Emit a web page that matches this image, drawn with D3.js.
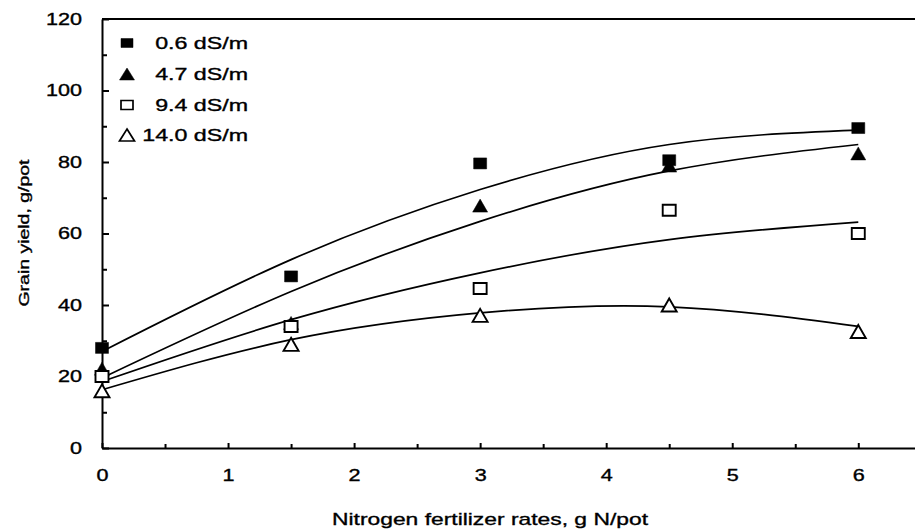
<!DOCTYPE html>
<html>
<head>
<meta charset="utf-8">
<script src="https://cdn.jsdelivr.net/npm/d3@7/dist/d3.min.js"></script>
<style>
  body { margin: 0; background: #fff; }
  svg { display: block; font-family: "Liberation Sans", Arial, sans-serif; }
  text { stroke: #000; stroke-width: 0.35px; }
</style>
</head>
<body>
<svg id="chart" width="915" height="530"></svg>
<script>
// N rates where yield was measured
const nRates = [0, 1.5, 3, 4.5, 6];
const seriesNames = ["0.6 dS/m", "4.7 dS/m", "9.4 dS/m", "14.0 dS/m"];

// observed grain yield, g/pot
const yield06 = [28, 48, 79.6, 80.5, 89.5];
const yield47 = [22.2, 35, 67.8, 79, 82.4];
const yield94 = [20, 34, 44.6, 66.5, 60];
const yield140 = [16, 29, 37.1, 40, 32.6];

// fitted response curves at the same N rates
const fit06 = [27, 52.7, 72.3, 84.9, 88.9];
const fit47 = [19.6, 43.8, 63.4, 77.5, 84.9];
const fit94 = [18.6, 35.9, 49, 58.3, 63.2];
const fit140 = [16.3, 30.3, 37.8, 39.5, 34];

const xMajor = [0, 1, 2, 3, 4, 5, 6];
const xMinor = [0.5, 1.5, 2.5, 3.5, 4.5, 5.5];
const yMajor = [0, 20, 40, 60, 80, 100, 120];
const yMinor = [10, 30, 50, 70, 90, 110];

const observed = [yield06, yield47, yield94, yield140];
const fitted = [fit06, fit47, fit94, fit140];

// marker look per series
const styles = [
  {shape: "square", fill: "#000"},
  {shape: "triangle", fill: "#000"},
  {shape: "square", fill: "#fff"},
  {shape: "triangle", fill: "#fff"}
];

const svg = d3.select("#chart");
const hs = 1.35; // the scanned lettering is stretched sideways

const x = d3.scaleLinear().domain([0, 6.45]).range([102, 915]);
const y = d3.scaleLinear().domain([0, 120]).range([448, 19]);

function markerPath(shape, w, h) {
  if (shape === "square") {
    return `M${-w/2},${-h/2}H${w/2}V${h/2}H${-w/2}Z`;
  }
  return `M0,${-h/2}L${w/2},${h/2}L${-w/2},${h/2}Z`;
}

// top frame line
svg.append("line")
  .attr("x1", x(0)).attr("x2", 915)
  .attr("y1", y(120)).attr("y2", y(120))
  .attr("stroke", "#000").attr("stroke-width", 1.8);

// x axis
const xAxisG = svg.append("g")
  .attr("transform", `translate(0,${y(0)})`)
  .call(d3.axisBottom(x).tickValues(xMajor).tickSize(-5).tickSizeOuter(0)
    .tickPadding(22).tickFormat(d3.format("d")));
svg.append("g")
  .attr("transform", `translate(0,${y(0)})`)
  .call(d3.axisBottom(x).tickValues(xMinor).tickSize(-4).tickFormat(""))
  .call(g => g.select(".domain").remove());

// y axis
const yAxisG = svg.append("g")
  .attr("transform", `translate(${x(0)},0)`)
  .call(d3.axisLeft(y).tickValues(yMajor).tickSize(-7).tickSizeOuter(0)
    .tickPadding(20).tickFormat(d3.format("d")));
svg.append("g")
  .attr("transform", `translate(${x(0)},0)`)
  .call(d3.axisLeft(y).tickValues(yMinor).tickSize(-5).tickFormat(""))
  .call(g => g.select(".domain").remove());

svg.selectAll(".domain, .tick line").attr("stroke", "#000").attr("stroke-width", 2);
svg.selectAll(".tick text")
  .attr("font-size", 16)
  .attr("font-family", "Liberation Sans, Arial, sans-serif")
  .attr("fill", "#000")
  .attr("transform", `scale(${hs},1)`);
yAxisG.selectAll(".tick text").attr("x", -20 / hs);

// fitted curves
const line = d3.line()
  .x((d, i) => x(nRates[i]))
  .y(d => y(d))
  .curve(d3.curveNatural);

svg.append("g").selectAll("path")
  .data(fitted)
  .join("path")
  .attr("d", line)
  .attr("fill", "none")
  .attr("stroke", "#000")
  .attr("stroke-width", 1.7);

// observed points, triangles of 4.7 drawn under the 0.6 squares
[1, 0, 2, 3].forEach(s => {
  const st = styles[s];
  const w = st.shape === "square" ? 13 : 15;
  const h = st.shape === "square" ? 11 : 13;
  svg.append("g").selectAll("path")
    .data(observed[s])
    .join("path")
    .attr("transform", (d, i) => `translate(${x(nRates[i])},${y(d)})`)
    .attr("d", markerPath(st.shape, w, h))
    .attr("fill", st.fill)
    .attr("stroke", "#000")
    .attr("stroke-width", st.fill === "#fff" ? 1.9 : 0.5);
});

// legend
const legendY = [43, 74, 105, 135];
const legend = svg.append("g");
seriesNames.forEach((name, i) => {
  const st = styles[i];
  const w = st.shape === "square" ? 12 : 15;
  const h = st.shape === "square" ? 9 : 12;
  legend.append("path")
    .attr("transform", `translate(127,${legendY[i]})`)
    .attr("d", markerPath(st.shape, w, h))
    .attr("fill", st.fill)
    .attr("stroke", "#000")
    .attr("stroke-width", st.fill === "#fff" ? 1.7 : 0.5);
  const t = legend.append("text")
    .attr("y", legendY[i])
    .attr("dy", "0.35em")
    .attr("font-size", 16)
    .attr("fill", "#000")
    .text(name);
  const len = t.node().getComputedTextLength() * 1.45;
  t.attr("x", 248 - len)
    .attr("textLength", len)
    .attr("lengthAdjust", "spacingAndGlyphs");
});

// axis titles
svg.append("text")
  .attr("x", 490).attr("y", 525)
  .attr("text-anchor", "middle")
  .attr("font-size", 17)
  .attr("textLength", 316)
  .attr("lengthAdjust", "spacingAndGlyphs")
  .text("Nitrogen fertilizer rates, g N/pot");

svg.append("text")
  .attr("transform", "translate(29,233) rotate(-90)")
  .attr("text-anchor", "middle")
  .attr("font-size", 15)
  .attr("textLength", 147)
  .attr("lengthAdjust", "spacingAndGlyphs")
  .attr("stroke-width", 0.2)
  .text("Grain yield, g/pot");
</script>
</body>
</html>
